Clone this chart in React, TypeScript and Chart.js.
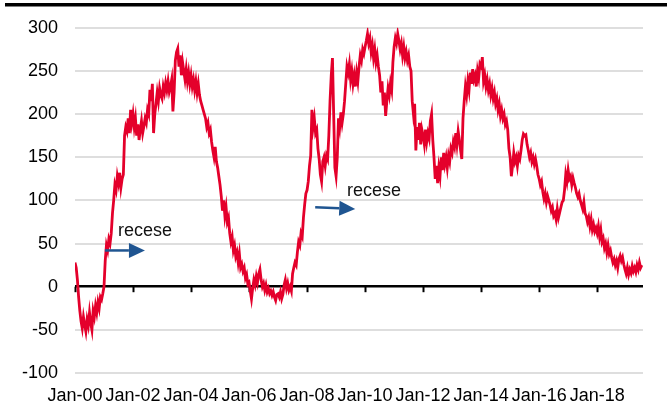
import React, { useEffect, useRef } from "react";
import { Chart, registerables } from "chart.js";

Chart.register(...registerables);

// Semi-monthly observations, one array per calendar year (24 values each)
const s2000 = [28, 22, 8, -12, -28, -40, -48, -35, -44, -52, -38, -45, -30, -42, -50, -28, -35, -22, -30, -18, -25, -12, -15, -8];
const s2001 = [0, 30, 48, 42, 55, 50, 62, 85, 100, 118, 112, 128, 120, 132, 115, 125, 130, 175, 185, 180, 195, 178, 205, 190];
const s2002 = [200, 185, 195, 175, 188, 170, 182, 192, 178, 186, 195, 190, 205, 200, 228, 215, 235, 178, 200, 212, 225, 215, 230, 222];
const s2003 = [218, 232, 225, 236, 228, 238, 226, 232, 240, 203, 225, 262, 272, 276, 255, 268, 245, 260, 250, 240, 252, 238, 248, 235];
const s2004 = [245, 232, 240, 228, 238, 225, 235, 222, 215, 210, 205, 200, 195, 185, 190, 178, 182, 168, 158, 150, 162, 145, 138, 128];
const s2005 = [118, 105, 88, 100, 82, 92, 75, 80, 62, 52, 58, 42, 48, 35, 40, 28, 38, 22, 26, 18, 22, 10, 14, 3];
const s2006 = [5, -5, -14, -2, 8, 2, 12, 5, 15, 20, 8, 0, 4, -4, 2, -6, -2, -8, -5, -10, -6, -12, -16, -9];
const s2007 = [-8, -12, -6, -14, -9, 2, 8, -2, 4, -4, 0, -5, 15, 22, 28, 25, 40, 52, 48, 62, 58, 80, 95, 108];
const s2008 = [112, 122, 140, 152, 205, 185, 195, 178, 182, 160, 148, 130, 122, 145, 150, 140, 152, 148, 175, 215, 245, 265, 200, 138];
const s2009 = [128, 150, 195, 185, 202, 190, 200, 215, 235, 255, 248, 258, 240, 250, 235, 245, 232, 248, 238, 255, 268, 262, 275, 270];
const s2010 = [278, 285, 293, 282, 288, 272, 280, 265, 275, 260, 268, 255, 245, 225, 238, 210, 225, 198, 215, 230, 222, 236, 228, 260];
const s2011 = [278, 288, 282, 293, 285, 275, 282, 268, 278, 265, 272, 262, 268, 255, 250, 215, 200, 212, 158, 185, 170, 190, 165, 182];
const s2012 = [175, 165, 182, 168, 178, 172, 192, 200, 170, 150, 125, 140, 120, 138, 128, 150, 135, 155, 142, 150, 138, 152, 145, 160];
const s2013 = [155, 168, 162, 178, 165, 180, 170, 158, 148, 195, 215, 232, 222, 238, 228, 248, 235, 252, 240, 245, 232, 250, 242, 258];
const s2014 = [255, 266, 238, 245, 232, 240, 228, 235, 222, 230, 218, 225, 212, 218, 205, 212, 198, 205, 195, 200, 188, 192, 182, 160];
const s2015 = [150, 128, 140, 155, 145, 150, 140, 152, 148, 158, 170, 177, 175, 176, 165, 158, 150, 155, 145, 150, 142, 148, 140, 130];
const s2016 = [125, 118, 122, 110, 102, 108, 98, 105, 100, 95, 88, 92, 82, 85, 78, 90, 80, 86, 92, 98, 100, 112, 130, 122];
const s2017 = [135, 125, 128, 118, 126, 120, 115, 108, 104, 108, 100, 95, 90, 98, 85, 82, 75, 80, 70, 78, 66, 72, 64, 68];
const s2018 = [62, 70, 58, 66, 52, 56, 45, 50, 40, 48, 38, 42, 34, 28, 32, 25, 30, 22, 32, 36, 30, 34, 26, 20];
const s2019 = [15, 22, 14, 20, 16, 24, 18, 22, 17, 25, 20, 28, 22, 25];

const yearlySeries = [s2000, s2001, s2002, s2003, s2004, s2005, s2006, s2007, s2008, s2009, s2010, s2011, s2012, s2013, s2014, s2015, s2016, s2017, s2018, s2019];
const firstYear = 2000;
const lastX = 2019.58;

const yTickMin = -100;
const yTickMax = 300;
const yTickStep = 50;
const xTickStep = 2;

// Annotations ("recese" = recession), in data coordinates
const noteLabels = ["recese", "recese"];
const noteTextX = [2001.48, 2009.38];
const noteTextY = [65, 111];
const arrowFromX = [2001.03, 2008.28];
const arrowFromY = [42, 92];
const arrowToX = [2002.41, 2009.66];
const arrowToY = [42, 90];

const FONT = "'Liberation Sans', Arial, sans-serif";

const points: { x: number; y: number }[] = [];
yearlySeries.forEach((arr, yi) => {
  arr.forEach((v, j) => points.push({ x: firstYear + yi + j / 24, y: v }));
});

const decorPlugin = {
  id: "decor",
  beforeDatasetsDraw(chart: any) {
    const { ctx, scales } = chart;
    const x = scales.x;
    const y = scales.y;
    const y0 = y.getPixelForValue(0);
    ctx.save();
    ctx.strokeStyle = "#000";
    ctx.lineWidth = 2;
    x.ticks.forEach((t: any) => {
      const px = Math.round(x.getPixelForValue(t.value)) + 0.5;
      ctx.beginPath();
      ctx.moveTo(px, y0);
      ctx.lineTo(px, y0 + 5.5);
      ctx.stroke();
    });
    ctx.restore();
  },
  afterDraw(chart: any) {
    const { ctx, scales } = chart;
    const x = scales.x;
    const y = scales.y;
    ctx.save();
    // top rule
    ctx.fillStyle = "#000";
    ctx.fillRect(5, 3, chart.width - 5, 3.5);
    // annotations
    ctx.font = `18px ${FONT}`;
    ctx.textAlign = "left";
    ctx.textBaseline = "middle";
    ctx.fillStyle = "#111";
    noteLabels.forEach((label, i) => {
      ctx.fillText(label, x.getPixelForValue(noteTextX[i]), y.getPixelForValue(noteTextY[i]));
    });
    ctx.strokeStyle = "#1f5591";
    ctx.fillStyle = "#1f5591";
    ctx.lineWidth = 2.5;
    arrowFromX.forEach((fx, i) => {
      const x1 = x.getPixelForValue(fx);
      const y1 = y.getPixelForValue(arrowFromY[i]);
      const x2 = x.getPixelForValue(arrowToX[i]);
      const y2 = y.getPixelForValue(arrowToY[i]);
      const ang = Math.atan2(y2 - y1, x2 - x1);
      const headLen = 16;
      const headHalf = 7.5;
      const bx = x2 - headLen * Math.cos(ang);
      const by = y2 - headLen * Math.sin(ang);
      ctx.beginPath();
      ctx.moveTo(x1, y1);
      ctx.lineTo(bx, by);
      ctx.stroke();
      ctx.beginPath();
      ctx.moveTo(x2, y2);
      ctx.lineTo(bx - headHalf * Math.sin(ang), by + headHalf * Math.cos(ang));
      ctx.lineTo(bx + headHalf * Math.sin(ang), by - headHalf * Math.cos(ang));
      ctx.closePath();
      ctx.fill();
    });
    ctx.restore();
  },
};

export default function App() {
  const ref = useRef<HTMLCanvasElement | null>(null);
  useEffect(() => {
    document.body.style.margin = "0";
    const canvas = ref.current;
    if (!canvas) return;
    const chart = new Chart(canvas, {
      type: "line",
      data: {
        datasets: [
          {
            data: points,
            borderColor: "#e4002b",
            backgroundColor: "#e4002b",
            borderWidth: 2.8,
            pointRadius: 0,
            tension: 0,
            fill: false,
          },
        ],
      },
      options: {
        animation: false,
        responsive: false,
        events: [],
        layout: { padding: { top: 21, right: 24, left: 0, bottom: 0 } },
        plugins: { legend: { display: false }, tooltip: { enabled: false } },
        scales: {
          x: {
            type: "linear",
            min: firstYear,
            max: lastX,
            grid: { display: false, drawTicks: false },
            border: { display: false },
            ticks: {
              stepSize: xTickStep,
              includeBounds: false,
              autoSkip: false,
              maxRotation: 0,
              minRotation: 0,
              padding: 12,
              color: "#000",
              font: { family: FONT, size: 18 },
              callback: (v: any) => "Jan-" + String(Math.round(Number(v)) % 100).padStart(2, "0"),
            },
            afterFit: (s: any) => {
              s.height = 28;
            },
          },
          y: {
            min: yTickMin,
            max: yTickMax,
            grid: {
              drawTicks: false,
              color: (c: any) => (c.tick && c.tick.value === 0 ? "#000" : "#dedede"),
              lineWidth: (c: any) => (c.tick && c.tick.value === 0 ? 2.5 : 2),
            },
            border: { display: false },
            ticks: {
              stepSize: yTickStep,
              padding: 17,
              color: "#000",
              font: { family: FONT, size: 18 },
            },
            afterFit: (s: any) => {
              s.width = 75;
            },
          },
        },
      } as any,
      plugins: [decorPlugin],
    });
    return () => chart.destroy();
  }, []);
  return (
    <div style={{ width: 667, height: 401 }}>
      <canvas ref={ref} width={667} height={401} style={{ display: "block" }} />
    </div>
  );
}
